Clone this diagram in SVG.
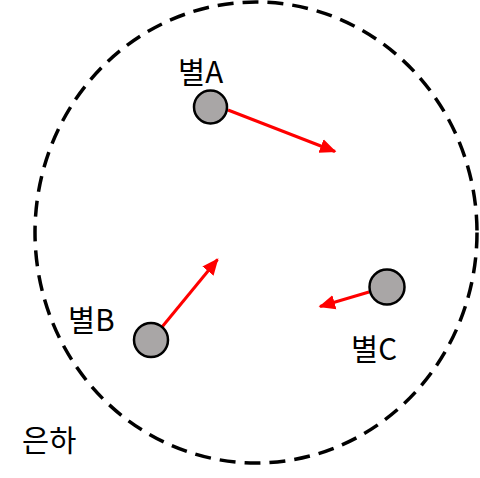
<svg xmlns="http://www.w3.org/2000/svg" width="480" height="478" viewBox="0 0 480 478">
<style>
.lbl{font-family:"Noto Sans CJK KR","Liberation Sans",sans-serif;font-size:29.5px;fill:#000}
.star{fill:#a9a6a6;stroke:#000;stroke-width:2.5}
.arr{stroke:#ff0000;stroke-width:3;fill:none;marker-end:url(#ah)}
</style>
<defs>
<marker id="ah" markerWidth="6" markerHeight="6" refX="5" refY="3" orient="auto" markerUnits="strokeWidth">
<path d="M0,0.6 L5.5,3 L0,5.4 Z" fill="#ff0000"/>
</marker>
</defs>
<rect width="480" height="478" fill="#fff"/>
<g id="galaxy">
<ellipse cx="256" cy="232.5" rx="221" ry="230.5" fill="none" stroke="#000" stroke-width="3.5" stroke-dasharray="16 9"/>
<text class="lbl" x="22" y="451">은하</text>
</g>
<g id="connectors">
<line class="arr" x1="228" y1="110" x2="335" y2="151.5"/>
<line class="arr" x1="162" y1="327" x2="217.5" y2="259.5"/>
<line class="arr" x1="369" y1="292" x2="320" y2="306.5"/>
</g>
<g id="starA">
<circle class="star" cx="210.5" cy="107" r="16.5"/>
<text class="lbl" x="178" y="82.5">별A</text>
</g>
<g id="starB">
<circle class="star" cx="151" cy="340" r="17"/>
<text class="lbl" x="68" y="331">별B</text>
</g>
<g id="starC">
<circle class="star" cx="387" cy="287" r="17.5"/>
<text class="lbl" x="351" y="360">별C</text>
</g>
</svg>
